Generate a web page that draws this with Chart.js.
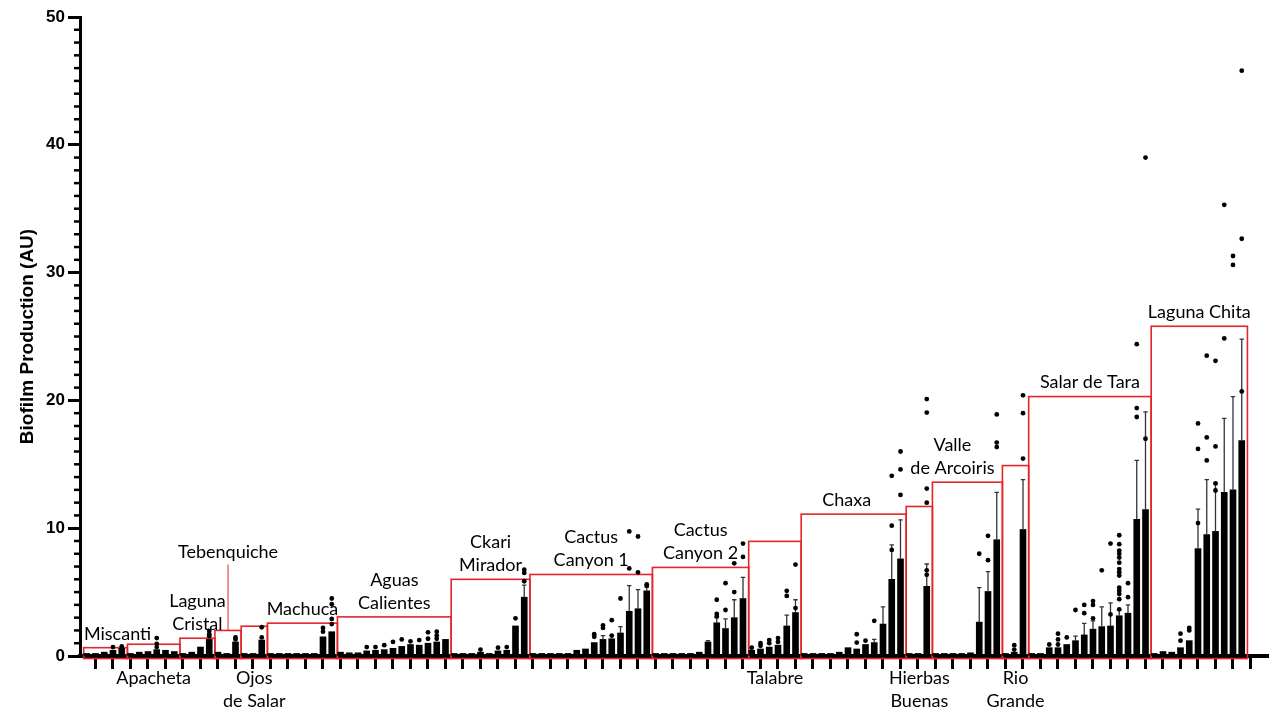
<!DOCTYPE html>
<html>
<head>
<meta charset="utf-8">
<script src="https://cdn.jsdelivr.net/npm/chart.js@4.4.1/dist/chart.umd.min.js"></script>
<style>
  html, body { margin: 0; padding: 0; background: #fff; }
  canvas { display: block; }
</style>
</head>
<body>
<canvas id="biofilm" width="1280" height="711"></canvas>
<script>
// sites in plot order, number of isolates per site and height of the red box
var siteNames = ['Miscanti', 'Apacheta', 'Laguna\nCristal', 'Tebenquiche', 'Ojos\nde Salar', 'Machuca',
  'Aguas\nCalientes', 'Ckari\nMirador', 'Cactus\nCanyon 1', 'Cactus\nCanyon 2', 'Talabre', 'Chaxa',
  'Hierbas\nBuenas', 'Valle\nde Arcoiris', 'Rio\nGrande', 'Salar de Tara', 'Laguna Chita'];
var siteSizes = [5, 6, 4, 3, 3, 8, 13, 9, 14, 11, 6, 12, 3, 8, 3, 14, 11];
var siteBoxTop = [0.65, 0.92, 1.39, 2.0, 2.33, 2.57, 3.06, 6.0, 6.38, 6.93, 8.97, 11.1, 11.7, 13.6, 14.9, 20.3, 25.8];
var siteLabelSide = ['up', 'down', 'up', 'up', 'down', 'up', 'up', 'up', 'up', 'up', 'down', 'up', 'down', 'up', 'down', 'up', 'up'];

// mean biofilm per isolate
var meanValues = [
  0.2, 0.2, 0.3, 0.45, 0.6,
  0.2, 0.3, 0.35, 0.5, 0.45, 0.35,
  0.2, 0.3, 0.7, 1.3,
  0.3, 0.2, 1.1,
  0.2, 0.2, 1.25,
  0.2, 0.2, 0.2, 0.2, 0.2, 0.2, 1.5, 1.9,
  0.3, 0.25, 0.25, 0.4, 0.45, 0.5, 0.6, 0.75, 0.9, 0.85, 1.0, 1.1, 1.3,
  0.2, 0.2, 0.2, 0.3, 0.2, 0.4, 0.45, 2.35, 4.6,
  0.2, 0.2, 0.2, 0.2, 0.2, 0.45, 0.55, 1.05, 1.3, 1.35, 1.8, 3.5, 3.7, 5.1,
  0.2, 0.2, 0.2, 0.2, 0.2, 0.3, 1.1, 2.6, 2.15, 3.0, 4.5,
  0.45, 0.55, 0.7, 0.85, 2.35, 3.4,
  0.2, 0.2, 0.2, 0.2, 0.3, 0.65, 0.55, 0.9, 1.05, 2.5, 6.0, 7.6,
  0.2, 0.2, 5.45,
  0.2, 0.2, 0.2, 0.2, 0.25, 2.65, 5.05, 9.1,
  0.2, 0.3, 9.9,
  0.2, 0.2, 0.65, 0.65, 0.9, 1.2, 1.65, 2.1, 2.3, 2.35, 3.15, 3.35, 10.7, 11.45,
  0.2, 0.35, 0.3, 0.65, 1.2, 8.4, 9.5, 9.75, 12.8, 13.0, 16.85
];

// [isolate, top of SD bar]
var errorTops = [
  [50, 5.55],
  [59, 1.6], [60, 1.6], [61, 2.3], [62, 5.5], [63, 5.2], [64, 5.4],
  [71, 1.2], [72, 3.0], [73, 2.9], [74, 4.4], [75, 6.15],
  [80, 3.2], [81, 4.4],
  [90, 1.3], [91, 3.85], [92, 8.7], [93, 10.65],
  [96, 7.2],
  [102, 5.35], [103, 6.6], [104, 12.8],
  [107, 13.8],
  [113, 1.55], [114, 2.55], [115, 2.75], [116, 3.85], [117, 4.15], [118, 3.6], [119, 4.0], [120, 15.3], [121, 19.1],
  [127, 11.5], [128, 13.8], [129, 13.5], [130, 18.6], [131, 20.3], [132, 24.8]
];

// [isolate, value] single replicate points drawn as dots
var outlierPoints = [
  [3, 0.7], [4, 0.75],
  [8, 1.4], [8, 0.95], [8, 0.7],
  [14, 1.95], [14, 1.7], [14, 1.55],
  [17, 1.45], [17, 1.3],
  [20, 2.25], [20, 1.45],
  [27, 2.2], [27, 1.9], [28, 4.5], [28, 4.05], [28, 2.9], [28, 2.5],
  [32, 0.7], [33, 0.7], [34, 0.85], [35, 1.1], [36, 1.3], [37, 1.15], [38, 1.25], [39, 1.85], [39, 1.35], [40, 1.9], [40, 1.6], [40, 1.35],
  [45, 0.5], [47, 0.65], [48, 0.7], [49, 2.95], [50, 5.85], [50, 6.5], [50, 6.75],
  [58, 1.7], [58, 1.5], [59, 2.4], [59, 2.2], [60, 2.8], [60, 1.6], [61, 4.5], [62, 9.75], [62, 6.85], [63, 9.35], [63, 6.55], [64, 5.6], [64, 5.5],
  [72, 4.4], [72, 3.3], [72, 3.1], [73, 5.7], [73, 3.6], [74, 7.25], [74, 5.0], [75, 8.8], [75, 7.75],
  [76, 0.65], [77, 1.0], [77, 0.8], [78, 1.25], [78, 1.0], [79, 1.4], [79, 1.1], [80, 5.1], [80, 4.7], [81, 7.15], [81, 3.75],
  [88, 1.7], [88, 1.05], [89, 1.2], [90, 2.75], [92, 14.1], [92, 10.2], [92, 8.3], [93, 16.0], [93, 14.6], [93, 12.6],
  [96, 20.1], [96, 19.05], [96, 13.1], [96, 12.0], [96, 6.7], [96, 6.35],
  [102, 8.0], [103, 9.4], [103, 7.5], [104, 18.9], [104, 16.7], [104, 16.35],
  [106, 0.85], [106, 0.5], [107, 20.4], [107, 19.0], [107, 15.45],
  [110, 0.9], [111, 1.75], [111, 1.3], [111, 0.9], [112, 1.45], [113, 3.6], [114, 4.0], [114, 3.35],
  [115, 4.3], [115, 4.0], [115, 2.95], [116, 6.7], [117, 8.8], [117, 3.25],
  [118, 9.45], [118, 8.75], [118, 8.25], [118, 8.0], [118, 7.7], [118, 7.3], [118, 6.8], [118, 6.55], [118, 6.3],
  [118, 5.35], [118, 5.1], [118, 4.85], [118, 4.45], [118, 3.65],
  [119, 5.7], [119, 4.6], [120, 24.4], [120, 19.4], [120, 18.7], [121, 39.0], [121, 17.0],
  [125, 1.75], [125, 1.2], [126, 2.2], [126, 2.0], [127, 18.2], [127, 16.2], [127, 10.4],
  [128, 23.5], [128, 17.1], [128, 15.3], [129, 23.1], [129, 16.4], [129, 13.5], [129, 12.95],
  [130, 35.3], [130, 24.85], [131, 31.3], [131, 30.6], [132, 45.8], [132, 32.65], [132, 20.7]
];

var yMajorTicks = [0, 10, 20, 30, 40, 50];

// small layout tweaks for a few site labels (pixels)
var labelNudge = { 0: 12, 11: -7, 13: -15 };
var labelRaise = { 3: 64 };

var RED = '#e3262b';

function eachSite(chart, fn) {
  var x = chart.scales.x, y = chart.scales.y;
  var start = 0;
  siteSizes.forEach(function (n, g) {
    var l = x.getPixelForValue(start - 0.35);
    var r = x.getPixelForValue(start + n - 0.35);
    var t = y.getPixelForValue(siteBoxTop[g]);
    var b = y.getPixelForValue(-0.2);
    fn(g, l, r, t, b);
    start += n;
  });
}

var siteBoxes = {
  id: 'siteBoxes',
  beforeDatasetsDraw: function (chart) {
    var ctx = chart.ctx;
    ctx.save();
    ctx.strokeStyle = RED;
    ctx.lineWidth = 1.6;
    eachSite(chart, function (g, l, r, t, b) {
      ctx.strokeRect(l, t, r - l, b - t);
    });
    ctx.restore();
  },
  afterDatasetDraw: function (chart, args) {
    if (args.index !== 0) return;
    var ctx = chart.ctx, x = chart.scales.x, y = chart.scales.y;
    ctx.save();
    ctx.strokeStyle = '#333';
    ctx.lineWidth = 1.3;
    errorTops.forEach(function (e) {
      var px = x.getPixelForValue(e[0]);
      var y0 = y.getPixelForValue(meanValues[e[0]]);
      var y1 = y.getPixelForValue(e[1]);
      ctx.beginPath();
      ctx.moveTo(px, y0);
      ctx.lineTo(px, y1);
      ctx.moveTo(px - 2.2, y1);
      ctx.lineTo(px + 2.2, y1);
      ctx.stroke();
    });
    ctx.restore();
  },
  afterDraw: function (chart) {
    var ctx = chart.ctx, y = chart.scales.y;
    var area = chart.chartArea;
    ctx.save();
    // minor y ticks
    ctx.strokeStyle = '#000';
    ctx.lineWidth = 2.5;
    for (var v = 0; v <= 50; v++) {
      if (yMajorTicks.indexOf(v) >= 0) continue;
      var py = y.getPixelForValue(v);
      ctx.beginPath();
      ctx.moveTo(area.left - 6, py);
      ctx.lineTo(area.left, py);
      ctx.stroke();
    }
    // site labels
    ctx.font = '18px Lato, "Open Sans", sans-serif';
    ctx.fillStyle = '#000';
    ctx.textAlign = 'center';
    ctx.textBaseline = 'middle';
    eachSite(chart, function (g, l, r, t, b) {
      var lines = siteNames[g].split('\n');
      var cx = (l + r) / 2 + (labelNudge[g] || 0);
      if (siteLabelSide[g] === 'up') {
        var base = t - 14 - (labelRaise[g] || 0);
        lines.forEach(function (s, k) {
          ctx.fillText(s, cx, base - (lines.length - 1 - k) * 23);
        });
        if (labelRaise[g]) {
          ctx.strokeStyle = RED;
          ctx.lineWidth = 1;
          ctx.beginPath();
          ctx.moveTo(cx, base + 12);
          ctx.lineTo(cx, t);
          ctx.stroke();
        }
      } else {
        lines.forEach(function (s, k) {
          ctx.fillText(s, cx, area.bottom + 22 + k * 23);
        });
      }
    });
    ctx.restore();
  }
};

new Chart(document.getElementById('biofilm'), {
  type: 'bar',
  data: {
    datasets: [
      {
        data: meanValues.map(function (v, i) { return { x: i, y: v }; }),
        backgroundColor: '#000',
        barThickness: 6,
        order: 2
      },
      {
        type: 'scatter',
        data: outlierPoints.map(function (p) { return { x: p[0], y: p[1] }; }),
        pointRadius: 2.4,
        pointBackgroundColor: '#000',
        pointBorderWidth: 0,
        order: 1
      }
    ]
  },
  options: {
    responsive: false,
    animation: false,
    devicePixelRatio: 1,
    layout: { padding: { top: 17, right: 12, left: 0, bottom: 0 } },
    plugins: { legend: { display: false }, tooltip: { enabled: false } },
    scales: {
      x: {
        type: 'linear',
        min: -0.77,
        max: 135,
        offset: false,
        grid: { drawOnChartArea: false, drawTicks: true, tickLength: 13, tickWidth: 3, tickColor: '#000' },
        border: { color: '#000', width: 4 },
        ticks: { display: false },
        afterBuildTicks: function (s) {
          var t = [];
          for (var i = 0; i < meanValues.length; i += 2) t.push({ value: i });
          s.ticks = t;
        },
        afterFit: function (s) { s.height = 55; }
      },
      y: {
        min: 0,
        max: 50,
        grid: {
          drawOnChartArea: false, drawTicks: true, tickLength: 12, tickWidth: 3,
          tickColor: function (c) {
            return c.tick && yMajorTicks.indexOf(c.tick.value) >= 0 ? '#000' : 'rgba(0,0,0,0)';
          }
        },
        border: { color: '#000', width: 3 },
        ticks: {
          stepSize: 1,
          autoSkip: false,
          padding: 3,
          color: '#000',
          font: { family: '"Liberation Sans", Arial, sans-serif', size: 17, weight: 'bold' },
          callback: function (v) { return yMajorTicks.indexOf(v) >= 0 ? v : ''; }
        },
        title: {
          display: true,
          text: 'Biofilm Production (AU)',
          color: '#000',
          font: { family: '"Liberation Sans", Arial, sans-serif', size: 19, weight: 'bold' },
          padding: { top: 16, bottom: 0 }
        },
        afterFit: function (s) { s.width = 80; }
      }
    }
  },
  plugins: [siteBoxes]
});
</script>
</body>
</html>
